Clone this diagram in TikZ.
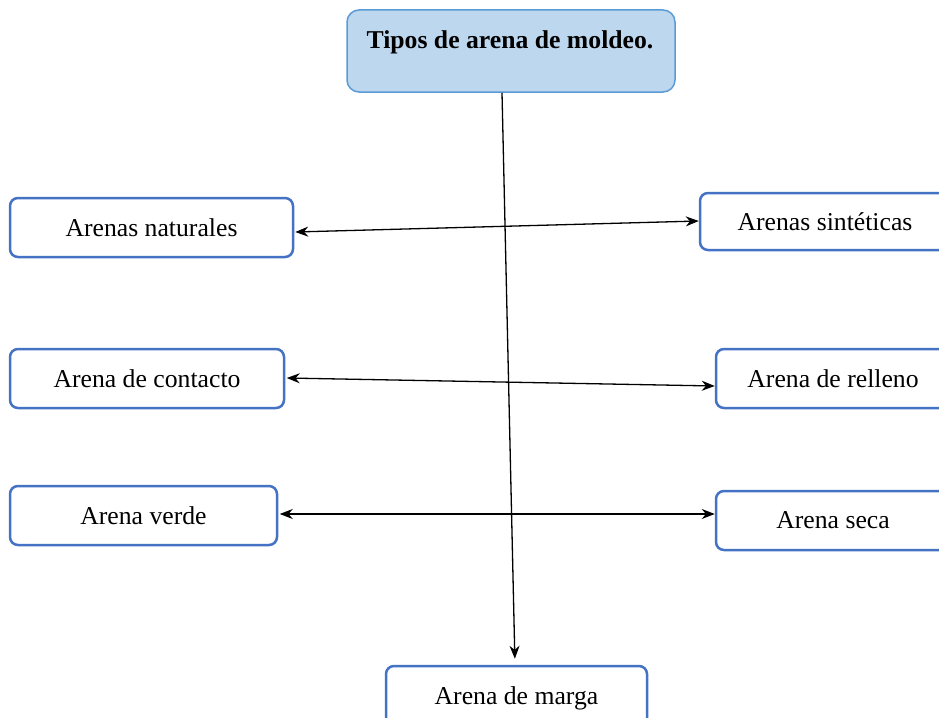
\documentclass[tikz,border=0pt]{standalone}
\usepackage{fontspec}
\setmainfont{Liberation Serif}
\usetikzlibrary{arrows.meta}
\definecolor{boxblue}{HTML}{4472C4}
\definecolor{topfill}{HTML}{BDD7EE}
\definecolor{topline}{HTML}{5B9BD5}
\begin{document}
\begin{tikzpicture}[x=1pt,y=-1pt,
  box/.style={draw=boxblue, line width=2.5pt, rounded corners=8pt, fill=white,
    inner sep=0pt, font=\fontsize{25.7}{30}\selectfont},
  topbox/.style={draw=topline, line width=1.5pt, rounded corners=12pt, fill=topfill, inner sep=0pt},
  conn/.style={line width=1.3pt, -{Stealth[length=13pt,width=10pt]}},
  biconn/.style={line width=1.3pt, {Stealth[length=13pt,width=10pt]}-{Stealth[length=13pt,width=10pt]}}
]
\useasboundingbox (0,0) rectangle (939,717);
\clip (0,0) rectangle (939,717);
\fill[white] (0,0) rectangle (939,717);
% top box
\node[topbox, minimum width=328pt, minimum height=82pt] (top) at (511,51) {};
\node[font=\fontsize{25.7}{30}\selectfont\bfseries, inner sep=0pt] (title) at (510,42) {Tipos de arena de moldeo.};
% left boxes
\node[box, minimum width=283pt, minimum height=59pt] (nat) at (151.5,227.5) {Arenas naturales};
\node[box, minimum width=274pt, minimum height=59pt] (con) at (147,378.5) {Arena de contacto};
\node[box, minimum width=267pt, minimum height=59pt] (ver) at (143.5,515.5) {Arena verde};
% right boxes (cut by page edge)
\node[box, minimum width=250pt, minimum height=57pt] (sin) at (825,221.5) {Arenas sintéticas};
\node[box, minimum width=234pt, minimum height=59pt] (rel) at (833,378.5) {Arena de relleno};
\node[box, minimum width=234pt, minimum height=59pt] (sec) at (833,520.5) {Arena seca};
% bottom box (cut by page edge)
\node[box, minimum width=261pt, minimum height=64pt] (mar) at (516.5,698) {Arena de marga};
% connectors
\draw[conn, shorten >=6pt] ([xshift=-9pt]top.south) -- ([xshift=-1.5pt]mar.north);
\draw[biconn] ([xshift=1pt,yshift=-4.5pt]nat.east) -- ([yshift=0.5pt]sin.west);
\draw[biconn] ([xshift=1.5pt,yshift=0.5pt]con.east) -- ([yshift=-7.5pt]rel.west);
\draw[biconn] ([xshift=1.5pt,yshift=1.5pt]ver.east) -- ([yshift=6.5pt]sec.west);
\end{tikzpicture}
\end{document}
